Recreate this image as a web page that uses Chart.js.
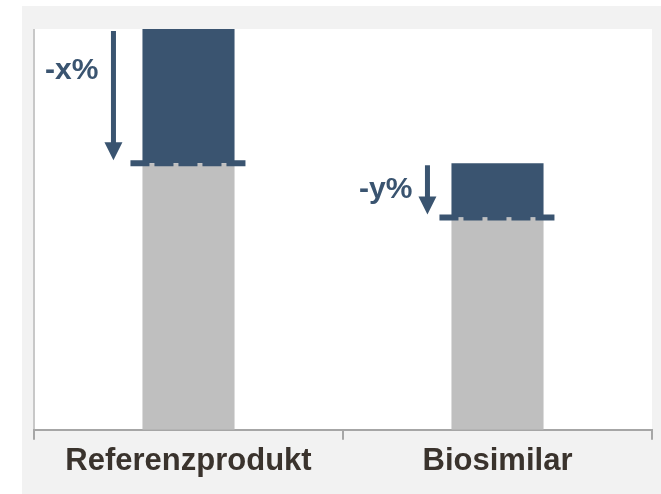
<!DOCTYPE html>
<html>
<head>
<meta charset="utf-8">
<script src="https://cdn.jsdelivr.net/npm/chart.js@4"></script>
<style>
  html, body { margin: 0; padding: 0; background: #ffffff; }
  #wrap { width: 661px; height: 494px; }
</style>
</head>
<body>
<div id="wrap"><canvas id="priceChart"></canvas></div>
<script>
// === Daten ===
const categories = ["Referenzprodukt", "Biosimilar"];
const baseValues = [66.5, 53];        // grauer Sockel
const reductionValues = [33.5, 13.5]; // blauer Aufsatz
const reductionLabels = ["-x%", "-y%"];

// === Stil ===
const BLUE = "#3a5470";
const GRAY = "#bfbfbf";
const PANEL = "#f2f2f2";
const arrowGap = [29, 24];   // Abstand Pfeil zur linken Balkenkante
const labelDrop = [40, 24];  // Textmitte unter Pfeilanfang

// Hintergrund: grauer Rahmen, weisse Zeichenflaeche, linke Achse
const backgroundPlugin = {
  id: "background",
  beforeDraw(chart) {
    const { ctx, chartArea: a, width, height } = chart;
    ctx.save();
    ctx.fillStyle = "#ffffff";
    ctx.fillRect(0, 0, width, height);
    ctx.fillStyle = PANEL;
    ctx.fillRect(22, 6, width - 22, height - 6);
    ctx.fillStyle = "#ffffff";
    ctx.fillRect(a.left, a.top, a.right - a.left, a.bottom - a.top);
    ctx.strokeStyle = "#c8c8c8";
    ctx.lineWidth = 2;
    ctx.beginPath();
    ctx.moveTo(a.left, a.top);
    ctx.lineTo(a.left, a.bottom);
    ctx.stroke();
    ctx.restore();
  },
};

// Gestrichelte Linie + Pfeil + Beschriftung
const reductionPlugin = {
  id: "reduction",
  afterDatasetsDraw(chart) {
    const { ctx } = chart;
    const y = chart.scales.y;
    const bars = chart.getDatasetMeta(0).data;
    ctx.save();
    bars.forEach((bar, i) => {
      const left = bar.x - bar.width / 2;
      const right = bar.x + bar.width / 2;
      const lineY = y.getPixelForValue(baseValues[i]);
      const topY = y.getPixelForValue(baseValues[i] + reductionValues[i]);

      // Linie
      ctx.strokeStyle = BLUE;
      ctx.lineWidth = 6;
      ctx.setLineDash([19, 5]);
      ctx.beginPath();
      ctx.moveTo(left - 12, lineY);
      ctx.lineTo(right + 12, lineY);
      ctx.stroke();
      ctx.setLineDash([]);

      // Pfeil
      const ax = left - arrowGap[i];
      const y0 = topY + 2;
      const tip = lineY - 3;
      ctx.fillStyle = BLUE;
      ctx.fillRect(ax - 2.5, y0, 5, tip - 17 - y0);
      ctx.beginPath();
      ctx.moveTo(ax - 9, tip - 18);
      ctx.lineTo(ax + 9, tip - 18);
      ctx.lineTo(ax, tip);
      ctx.closePath();
      ctx.fill();

      // Text
      ctx.font = "bold 30px 'Liberation Sans', Arial, sans-serif";
      ctx.textAlign = "right";
      ctx.textBaseline = "middle";
      ctx.fillText(reductionLabels[i], ax - 15, y0 + labelDrop[i]);
    });
    ctx.restore();
  },
};

const ctx = document.getElementById("priceChart").getContext("2d");
new Chart(ctx, {
  type: "bar",
  data: {
    labels: categories,
    datasets: [
      { data: baseValues, backgroundColor: GRAY, borderWidth: 0 },
      { data: reductionValues, backgroundColor: BLUE, borderWidth: 0 },
    ],
  },
  options: {
    responsive: true,
    maintainAspectRatio: false,
    animation: false,
    layout: { padding: { left: 34, top: 29, right: 9, bottom: 11 } },
    scales: {
      x: {
        stacked: true,
        grid: {
          offset: true,
          drawOnChartArea: false,
          drawTicks: true,
          tickLength: 10,
          color: "#a6a6a6",
          lineWidth: 2,
        },
        border: { color: "#a6a6a6", width: 2 },
        ticks: {
          padding: 3,
          color: "#3a332d",
          font: { family: "'Liberation Sans', Arial, sans-serif", size: 31, weight: "bold" },
        },
      },
      y: {
        stacked: true,
        display: false,
        min: 0,
        max: 100,
      },
    },
    datasets: { bar: { categoryPercentage: 0.298, barPercentage: 1 } },
    plugins: {
      legend: { display: false },
      tooltip: { enabled: false },
    },
  },
  plugins: [backgroundPlugin, reductionPlugin],
});
</script>
</body>
</html>
